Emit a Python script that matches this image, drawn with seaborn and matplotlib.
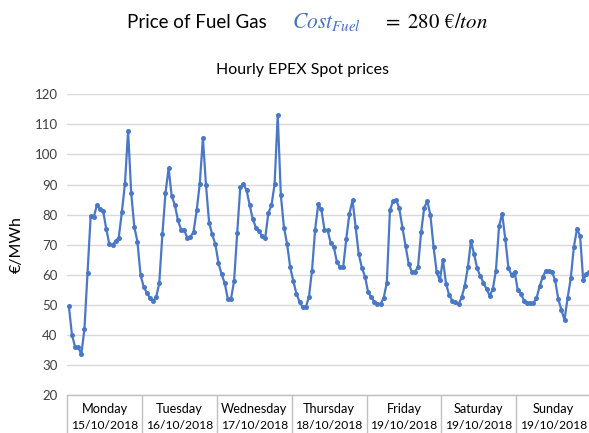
import matplotlib
matplotlib.use("Agg")
import matplotlib.pyplot as plt
import matplotlib.transforms as mtransforms
import pandas as pd
import seaborn as sns

# Hourly spot prices (EUR/MWh), 24 values per day.
monday = [49.5, 40, 36, 36, 33.5, 42, 60.5, 79.6, 79.2, 83.2, 81.7, 81.2,
          75.2, 70.1, 69.9, 71.2, 72.3, 80.8, 90.3, 107.9, 87.2, 75.9, 71, 59.9]
tuesday = [56, 54, 52.3, 51.2, 52.5, 57.2, 73.4, 87.2, 95.4, 86.1, 83.2, 78.1,
           75, 74.8, 72.3, 72.5, 74.3, 81.4, 90.3, 105.4, 89.7, 77.2, 73.4, 70.1]
wednesday = [63.9, 60.1, 57.2, 51.9, 51.9, 57.9, 73.9, 89.2, 90.1, 88.1, 83.2, 78.5,
             75.7, 74.5, 72.8, 72.3, 80.5, 83.1, 90.1, 113.2, 86.5, 75.7, 70.3, 62.5]
thursday = [57.9, 53.7, 51, 49.2, 49.2, 52.5, 61.4, 75, 83.4, 81.7, 75, 74.8,
            70.5, 69.2, 64.2, 62.5, 62.5, 72, 80.3, 84.8, 75.9, 66.8, 62.3, 59.4]
friday = [54.2, 52.5, 51, 50.3, 50.3, 52.3, 57.4, 81.4, 84.5, 84.8, 82.1, 75.7,
          69.6, 63.7, 61, 61, 62.5, 74.1, 82.3, 84.5, 79.7, 69.2, 60.8, 58.1]
saturday = [65, 57, 53.2, 51.4, 50.8, 50.1, 52.5, 56.3, 62.5, 71.2, 66.8, 62.1,
            59.5, 57.4, 55.2, 53, 55.2, 61.4, 76.1, 80.3, 71.9, 62.3, 59.9, 61]
sunday = [55, 53.7, 51.4, 50.6, 50.6, 50.6, 52.1, 56.1, 59.2, 61.4, 61.2, 61,
          58.1, 51.9, 48.3, 45, 52.3, 58.8, 69.2, 75.2, 73, 58.1, 60.3, 61]

day_names = ["Monday", "Tuesday", "Wednesday", "Thursday", "Friday", "Saturday", "Sunday"]
day_dates = ["15/10/2018", "16/10/2018", "17/10/2018", "18/10/2018",
             "19/10/2018", "19/10/2018", "19/10/2018"]
y_ticks = [20, 30, 40, 50, 60, 70, 80, 90, 100, 110, 120]

prices = monday + tuesday + wednesday + thursday + friday + saturday + sunday
df = pd.DataFrame({"hour": range(len(prices)), "price": prices})

sns.set_theme(style="white")
plt.rcParams["font.family"] = ["Lato", "DejaVu Sans"]
plt.rcParams["mathtext.fontset"] = "stix"

fig = plt.figure(figsize=(5.89, 4.33), dpi=100)
ax = fig.add_axes([67.3 / 589, 1 - 395 / 433, 523.7 / 589, 300.7 / 433])

sns.lineplot(data=df, x="hour", y="price", ax=ax, color="#4A78C8", linewidth=1.6,
             marker="o", markersize=3.6, markeredgewidth=0, clip_on=False)

ax.set_xlim(-0.5, len(prices) - 0.5)
ax.set_ylim(20, 120)
ax.set_yticks(y_ticks)
ax.set_yticklabels([str(t) for t in y_ticks], fontsize=9.5, color="#404040")
ax.tick_params(axis="y", length=0, pad=7)
ax.set_xticks([])
ax.set_xlabel("")
ax.set_ylabel("€/MWh", fontsize=11.5, color="black", labelpad=8)
ax.yaxis.grid(True, color="#D9D9D9", linewidth=1)
ax.set_axisbelow(True)
for side in ["left", "top", "right"]:
    ax.spines[side].set_visible(False)
ax.spines["bottom"].set_color("#BFBFBF")
ax.spines["bottom"].set_linewidth(1)

# Two-level category axis: day boxes below the plot.
trans = mtransforms.blended_transform_factory(ax.transData, ax.transAxes)
for i in range(len(day_names) + 1):
    ax.plot([i * 24 - 0.5, i * 24 - 0.5], [0, -0.13], transform=trans,
            color="#BFBFBF", linewidth=1, clip_on=False)
for i, (name, date) in enumerate(zip(day_names, day_dates)):
    xc = i * 24 + 11.5
    ax.text(xc, -0.048, name, transform=trans, ha="center", va="center",
            fontsize=9.2, color="black")
    ax.text(xc, -0.1, date, transform=trans, ha="center", va="center",
            fontsize=8.7, color="black")

fig.text(302 / 589, 1 - 70 / 433, "Hourly EPEX Spot prices", fontsize=11.5,
         color="black", ha="center", va="center")

# Header line with the fuel cost formula.
fig.text(127 / 589, 1 - 22 / 433, "Price of Fuel Gas", fontsize=13.5,
         color="black", ha="left", va="center")
fig.text(292 / 589, 1 - 22 / 433, r"$Cost_{Fuel}$", fontsize=15.5,
         color="#4472C4", ha="left", va="center")
fig.text(382 / 589, 1 - 22 / 433, r"$=\ \mathrm{280\ €}/ton$", fontsize=15,
         color="black", ha="left", va="center")

fig.savefig("out.png", dpi=100)
